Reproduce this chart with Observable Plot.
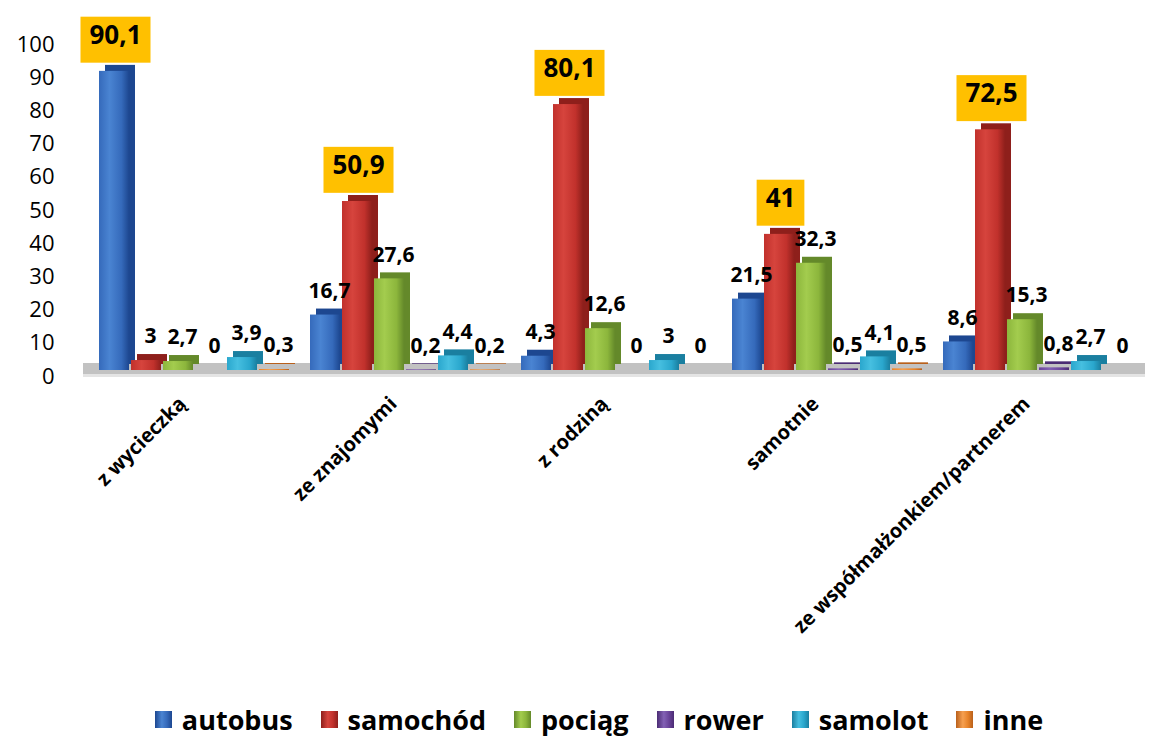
<!DOCTYPE html>
<html><head><meta charset="utf-8">
<script src="https://cdn.jsdelivr.net/npm/d3@7"></script>
<script src="https://cdn.jsdelivr.net/npm/@observablehq/plot@0.6"></script>
<style>
body{margin:0;background:#fff;font-family:"Open Sans",sans-serif;}
#chart{width:1150px;height:695px;}
g[aria-label^="y-axis"]{font-size:22px;font-family:"Open Sans",sans-serif;fill:#000;}
g[aria-label^="y-axis"] text{font-size:22px;}
g[aria-label^="fx-axis"]{font-size:20px;font-weight:700;fill:#000;}
g[aria-label^="fx-axis"] text{font-size:20px;font-weight:700;}
.legend{display:flex;justify-content:center;align-items:center;height:41px;font-weight:700;font-size:27px;color:#000;padding-left:48px;padding-top:4px;}
.item{display:flex;align-items:center;margin:0 14px;}
.sw{width:17px;height:17px;margin-right:10px;}
</style></head><body><div id="chart"></div><div class="legend" id="legend"></div>
<script>
const groups = ["z wycieczką", "ze znajomymi", "z rodziną", "samotnie", "ze współmałżonkiem/partnerem"];
const series = ["autobus", "samochód", "pociąg", "rower", "samolot", "inne"];
const autobus  = [90.1, 16.7, 4.3, 21.5, 8.6];
const samochod = [3, 50.9, 80.1, 41, 72.5];
const pociag   = [2.7, 27.6, 12.6, 32.3, 15.3];
const rower    = [0, 0.2, 0, 0.5, 0.8];
const samolot  = [3.9, 4.4, 3, 4.1, 2.7];
const inne     = [0.3, 0.2, 0, 0.5, 0];
const yTicks = [0, 10, 20, 30, 40, 50, 60, 70, 80, 90, 100];

// styles (kept separate from data)
const lightColors = ["#4a84d2", "#d6443d", "#a3cc4e", "#8361b5", "#46bfe0", "#f6a050"];
const darkColors  = ["#1d4790", "#8e1f1b", "#64892a", "#4b2c74", "#1a7fa0", "#b9601b"];
const baseColors  = ["#356abb", "#c1312c", "#8cb63c", "#6a449a", "#2aa7cd", "#e8842a"];
const HL_TEXT = "#010101";

const valuesBySeries = [autobus, samochod, pociag, rower, samolot, inne];
const rows = [];
groups.forEach((g, gi) => {
  const vals = valuesBySeries.map(a => a[gi]);
  const mx = Math.max(...vals);
  series.forEach((s, si) => {
    rows.push({group: g, series: s, si, value: vals[si], isMax: vals[si] === mx});
  });
});
const fmt = v => String(v).replace(".", ",");

const chart = Plot.plot({
  width: 1150, height: 695,
  marginLeft: 95, marginRight: 13, marginTop: 44, marginBottom: 319,
  style: {fontFamily: "Open Sans, sans-serif", background: "white", color: "#000", overflow: "visible"},
  facet: {data: rows, x: "group"},
  fx: {domain: groups, paddingInner: 0.082, paddingOuter: 0, label: null, tickRotate: -45, tickSize: 0, tickPadding: 20},
  x: {domain: series, axis: null, paddingInner: 0.05, paddingOuter: 0.02},
  y: {domain: [0, 100], ticks: yTicks, tickSize: 0, tickPadding: 43, label: null, tickFormat: d => String(d)},
  color: {type: "identity"},
  marks: [
    Plot.ruleY([0], {stroke: "#c2c2c2", strokeWidth: 11, dy: -8, insetLeft: -14, insetRight: -10}),
    Plot.ruleY([0], {stroke: "#e4e4e4", strokeWidth: 3, dy: -1, insetLeft: -14, insetRight: -10}),
    Plot.barY(rows, {x: "series", y: "value", fill: d => darkColors[d.si], dx: 6, dy: -12}),
    Plot.barY(rows, {x: "series", y: "value", fill: d => `url(#grad${d.si})`, dy: -6}),
    Plot.text(rows, {filter: d => !d.isMax, x: "series", y: "value", text: d => fmt(d.value), dy: -30, dx: 4, fontSize: 21, fontWeight: 700, fill: "#000"}),
    Plot.text(rows, {filter: d => d.isMax, x: "series", y: "value", text: d => fmt(d.value), dy: -42, dx: 1, fontSize: 26, fontWeight: 700, fill: HL_TEXT})
  ]
});
document.getElementById("chart").appendChild(chart);

const svg = chart.tagName.toLowerCase() === "svg" ? chart : chart.querySelector("svg");
const ns = "http://www.w3.org/2000/svg";
const defs = document.createElementNS(ns, "defs");
series.forEach((s, i) => {
  const lg = document.createElementNS(ns, "linearGradient");
  lg.setAttribute("id", `grad${i}`);
  lg.setAttribute("x1", "0"); lg.setAttribute("x2", "1"); lg.setAttribute("y1", "0"); lg.setAttribute("y2", "0");
  [[0, baseColors[i]], [0.35, lightColors[i]], [0.75, baseColors[i]], [1, darkColors[i]]].forEach(([o, c]) => {
    const st = document.createElementNS(ns, "stop");
    st.setAttribute("offset", o); st.setAttribute("stop-color", c);
    lg.appendChild(st);
  });
  defs.appendChild(lg);
});
svg.insertBefore(defs, svg.firstChild);

// highlight boxes behind the max labels
const hlTexts = Array.from(svg.querySelectorAll("text")).filter(t => {
  let n = t;
  while (n && n !== svg) {
    const f = n.getAttribute && n.getAttribute("fill");
    if (f) return f.toLowerCase() === HL_TEXT;
    n = n.parentNode;
  }
  return false;
});
hlTexts.forEach(t => {
  const bb = t.getBBox();
  const r = document.createElementNS(ns, "rect");
  r.setAttribute("x", bb.x - 9);
  r.setAttribute("y", bb.y + 1);
  r.setAttribute("width", bb.width + 18);
  r.setAttribute("height", bb.height + 10);
  r.setAttribute("fill", "#ffc000");
  if (t.getAttribute("transform")) r.setAttribute("transform", t.getAttribute("transform"));
  t.parentNode.insertBefore(r, t);
});

// nudge category labels so their ends sit at the group centres
svg.querySelectorAll('g[aria-label^="fx-axis"]').forEach(g => {
  const tr = g.getAttribute("transform") || "";
  g.setAttribute("transform", `translate(-12,4) ${tr}`);
});

// legend
const leg = document.getElementById("legend");
series.forEach((s, i) => {
  const it = document.createElement("div"); it.className = "item";
  const sw = document.createElement("div"); sw.className = "sw";
  sw.style.background = `linear-gradient(90deg, ${darkColors[i]}, ${lightColors[i]} 40%, ${baseColors[i]} 70%, ${darkColors[i]})`;
  const tx = document.createElement("span"); tx.textContent = s;
  it.appendChild(sw); it.appendChild(tx); leg.appendChild(it);
});
</script></body></html>
